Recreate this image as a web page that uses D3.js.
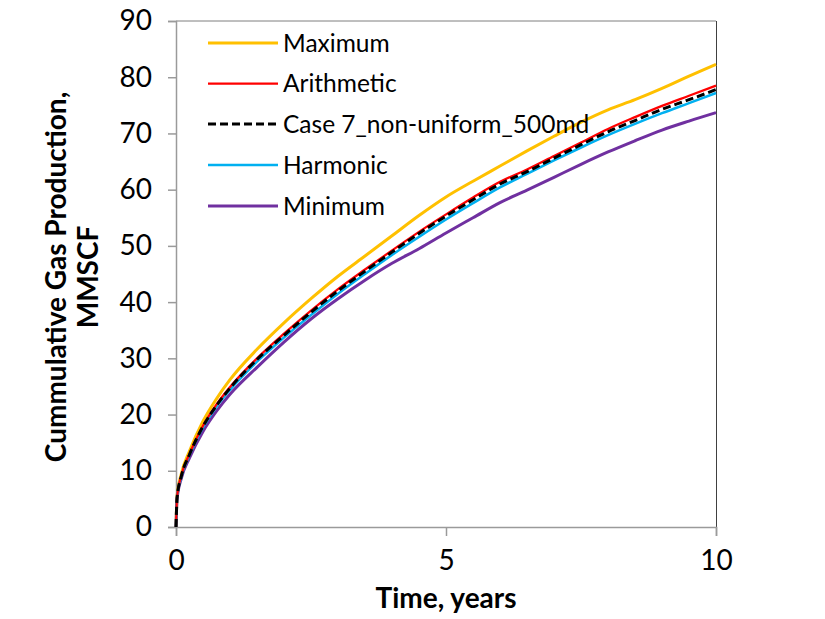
<!DOCTYPE html>
<html>
<head>
<meta charset="utf-8">
<script src="https://cdn.jsdelivr.net/npm/d3@7/dist/d3.min.js"></script>
<style>
  html, body { margin: 0; padding: 0; background: #fff; }
  svg { display: block; }
  text { font-family: "Lato", "Open Sans", sans-serif; fill: #000; }
</style>
</head>
<body>
<svg id="chart" width="825" height="619"></svg>
<script>
// Time in years
const timeYears = [0, 0.02, 0.1, 0.25, 0.5, 0.75, 1, 1.5, 2, 2.5, 3, 3.5, 4, 4.5, 5, 5.5, 6, 6.5, 7, 7.5, 8, 8.5, 9, 9.5, 10];

// Cumulative gas production, MMSCF
const maximumVals    = [0, 5.5, 9.5, 13.5, 18.8, 22.8, 26.2, 31.6, 36.3, 40.6, 44.6, 48.2, 51.8, 55.4, 58.7, 61.5, 64.2, 66.9, 69.5, 72.0, 74.2, 76.0, 78.0, 80.2, 82.3];
const arithmeticVals = [0, 5.3, 9.2, 13.0, 18.0, 21.8, 24.9, 30.0, 34.4, 38.5, 42.3, 45.8, 49.2, 52.5, 55.6, 58.6, 61.4, 63.6, 66.0, 68.4, 70.8, 72.9, 74.9, 76.7, 78.5];
const case7Vals      = [0, 5.2, 9.1, 12.9, 17.9, 21.6, 24.7, 29.8, 34.1, 38.2, 42.0, 45.5, 48.9, 52.2, 55.3, 58.2, 61.0, 63.2, 65.6, 68.0, 70.3, 72.3, 74.3, 76.0, 77.8];
const harmonicVals   = [0, 5.2, 9.0, 12.8, 17.7, 21.4, 24.4, 29.4, 33.7, 37.7, 41.5, 45.0, 48.4, 51.6, 54.7, 57.6, 60.4, 62.8, 65.2, 67.5, 69.7, 71.7, 73.6, 75.4, 77.2];
const minimumVals    = [0, 5.0, 8.7, 12.3, 17.0, 20.6, 23.6, 28.4, 32.9, 37.0, 40.6, 43.9, 46.9, 49.5, 52.3, 55.0, 57.7, 59.9, 62.2, 64.5, 66.7, 68.7, 70.6, 72.2, 73.7];

const seriesNames = ["Maximum", "Arithmetic", "Case 7_non-uniform_500md", "Harmonic", "Minimum"];
const seriesColors = ["#FFC000", "#FF0000", "#000000", "#00B0F0", "#7030A0"];

const xTicks = [0, 5, 10];
const yTicks = [0, 10, 20, 30, 40, 50, 60, 70, 80, 90];

const seriesList = [
  { name: seriesNames[0], values: maximumVals,    color: seriesColors[0], width: 3,    dash: null },
  { name: seriesNames[1], values: arithmeticVals, color: seriesColors[1], width: 2.25, dash: null },
  { name: seriesNames[2], values: case7Vals,      color: seriesColors[2], width: 3,    dash: "8,4" },
  { name: seriesNames[3], values: harmonicVals,   color: seriesColors[3], width: 2.5,  dash: null },
  { name: seriesNames[4], values: minimumVals,    color: seriesColors[4], width: 3,    dash: null }
];

const svg = d3.select("#chart");
const plotLeft = 176, plotRight = 716, plotTop = 21, plotBottom = 527;

const x = d3.scaleLinear().domain([0, 10]).range([plotLeft, plotRight]);
const y = d3.scaleLinear().domain([0, 90]).range([plotBottom, plotTop]);

// Plot frame (top and right edges)
svg.append("line").attr("x1", plotLeft).attr("x2", plotRight).attr("y1", plotTop).attr("y2", plotTop)
  .attr("stroke", "#7f7f7f").attr("stroke-width", 1);
svg.append("line").attr("x1", plotRight + 0.5).attr("x2", plotRight + 0.5).attr("y1", plotTop).attr("y2", plotBottom)
  .attr("stroke", "#404040").attr("stroke-width", 1);

// Axes
const yAxis = d3.axisLeft(y).tickValues(yTicks).tickSize(8).tickPadding(16).tickFormat(d3.format("d"));
const xAxis = d3.axisBottom(x).tickValues(xTicks).tickSize(9).tickPadding(14).tickFormat(d3.format("d"));

const gy = svg.append("g").attr("transform", `translate(${plotLeft},0)`).call(yAxis);
const gx = svg.append("g").attr("transform", `translate(0,${plotBottom})`).call(xAxis);

[gx, gy].forEach(g => {
  g.select(".domain").attr("stroke", "#9a9a9a").attr("stroke-width", 1.5);
  g.selectAll(".tick line").attr("stroke", "#9a9a9a").attr("stroke-width", 1.5);
  g.selectAll(".tick text").style("font-size", "28px").style("font-family", "Lato, 'Open Sans', sans-serif").attr("fill", "#000");
});

// Lines
const line = d3.line()
  .x((d, i) => x(timeYears[i]))
  .y(d => y(d))
  .curve(d3.curveMonotoneX);

const drawOrder = [0, 4, 3, 1, 2];
drawOrder.forEach(k => {
  const s = seriesList[k];
  svg.append("path")
    .datum(s.values)
    .attr("d", line)
    .attr("fill", "none")
    .attr("stroke", s.color)
    .attr("stroke-width", s.width)
    .attr("stroke-dasharray", s.dash)
    .attr("stroke-linejoin", "round");
});

// Legend
const legendRowsY = [43, 83.5, 124, 165, 206];
const legend = svg.append("g");
seriesList.forEach((s, i) => {
  legend.append("line")
    .attr("x1", 208).attr("x2", 278)
    .attr("y1", legendRowsY[i]).attr("y2", legendRowsY[i])
    .attr("stroke", s.color).attr("stroke-width", s.width)
    .attr("stroke-dasharray", s.dash);
  legend.append("text")
    .attr("x", 283).attr("y", legendRowsY[i])
    .attr("dy", "0.35em")
    .style("font-size", "24.5px")
    .text(s.name);
});

// Axis titles
svg.append("text")
  .attr("x", x(5)).attr("y", 608)
  .attr("text-anchor", "middle")
  .style("font-size", "28px").style("font-weight", "bold")
  .text("Time, years");

const yTitle = svg.append("text")
  .attr("transform", `translate(0,${(plotTop + plotBottom) / 2 + 3}) rotate(-90)`)
  .attr("text-anchor", "middle")
  .style("font-size", "28px").style("font-weight", "bold");
yTitle.append("tspan").attr("x", 0).attr("y", 66).text("Cummulative Gas Production,");
yTitle.append("tspan").attr("x", 0).attr("y", 98).text("MMSCF");
</script>
</body>
</html>
